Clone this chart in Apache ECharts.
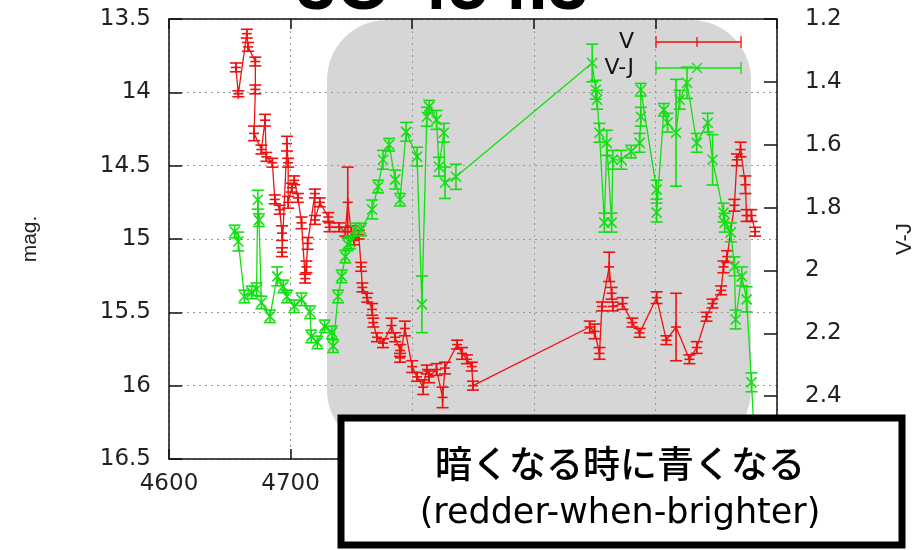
<!DOCTYPE html>
<html>
<head>
<meta charset="utf-8">
<script src="https://cdn.jsdelivr.net/npm/echarts@6/dist/echarts.min.js"></script>
<style>
html,body{margin:0;padding:0;background:#fff;}
#chart{width:924px;height:550px;}
</style>
</head>
<body>
<div id="chart"></div>
<script>
// ---- data (JD - 2450000 style day numbers) ----
const vDays = [4655,4657,4664,4665,4671,4671,4670,4676,4679,4680,4685,4687,4691,4693,4693,4697,4698,4698,4701,4703,4706,4709,4712,4713,4714,4720,4720,4724,4731,4732,4740,4745,4747,4750,4752,4756,4758,4759,4763,4767,4768,4771,4776,4783,4786,4790,4790,4794,4800,4804,4809,4812,4814,4820,4825,4827,4837,4841,4845,4849,4850,4946,4950,4954,4956,4962,4964,4965,4973,4981,4987,5001,5009,5017,5028,5034,5042,5047,5054,5056,5059,5065,5067,5070,5074,5075,5079,5082];
const vMag  = [13.83,14.01,13.60,13.69,13.79,13.98,14.28,14.39,14.19,14.44,14.48,14.73,14.80,14.96,15.09,14.35,14.48,14.75,14.65,14.60,14.72,14.89,15.27,15.19,15.03,14.69,14.87,14.75,14.85,14.92,14.92,14.95,14.75,14.95,15.01,14.97,15.19,15.33,15.40,15.48,15.57,15.67,15.71,15.59,15.67,15.76,15.81,15.61,15.87,15.94,16.01,15.89,15.94,15.89,16.08,15.88,15.72,15.78,15.82,15.87,16.00,15.60,15.63,15.78,15.46,15.19,15.37,15.46,15.44,15.57,15.64,15.40,15.69,15.60,15.82,15.74,15.53,15.44,15.35,15.19,15.12,14.77,14.46,14.39,14.63,14.84,14.84,14.95];
const vErr  = [0.03,0.02,0.03,0.03,0.03,0.03,0.05,0.03,0.04,0.03,0.03,0.03,0.03,0.05,0.03,0.05,0.03,0.04,0.03,0.03,0.03,0.04,0.03,0.04,0.04,0.03,0.03,0.03,0.03,0.03,0.03,0.03,0.24,0.04,0.03,0.03,0.03,0.03,0.03,0.04,0.03,0.03,0.03,0.05,0.03,0.04,0.03,0.05,0.04,0.03,0.05,0.03,0.04,0.04,0.07,0.04,0.03,0.04,0.03,0.03,0.03,0.04,0.05,0.04,0.03,0.10,0.04,0.03,0.04,0.03,0.03,0.04,0.03,0.23,0.03,0.04,0.03,0.03,0.03,0.04,0.04,0.04,0.04,0.05,0.06,0.04,0.04,0.03];

const vjDays = [4654,4657,4662,4668,4672,4673,4674,4676,4683,4689,4694,4697,4703,4709,4716,4717,4722,4728,4734,4735,4739,4742,4745,4747,4749,4753,4758,4767,4772,4776,4781,4786,4790,4795,4804,4808,4812,4814,4820,4822,4826,4827,4836,4948,4951,4952,4954,4958,4960,4964,4965,4972,4980,4987,4988,4988,5001,5001,5007,5010,5017,5020,5026,5034,5043,5047,5056,5057,5062,5065,5066,5071,5075,5079,5081];
const vjVal  = [1.876,1.908,2.083,2.07,2.06,1.775,1.84,2.102,2.146,2.019,2.051,2.083,2.114,2.092,2.133,2.21,2.229,2.178,2.197,2.241,2.083,2.019,1.956,1.917,1.911,1.87,1.87,1.806,1.733,1.648,1.60,1.711,1.775,1.559,1.638,2.108,1.511,1.479,1.521,1.67,1.562,1.721,1.702,1.34,1.425,1.457,1.562,1.848,1.594,1.848,1.648,1.648,1.622,1.594,1.511,1.425,1.743,1.816,1.489,1.53,1.562,1.457,1.403,1.594,1.53,1.648,1.816,1.848,1.879,1.987,2.156,2.019,2.092,2.356,2.505];
const vjErr  = [0.02,0.03,0.02,0.02,0.02,0.03,0.02,0.02,0.02,0.03,0.02,0.02,0.02,0.02,0.02,0.02,0.02,0.02,0.02,0.02,0.02,0.02,0.02,0.02,0.02,0.02,0.02,0.03,0.02,0.03,0.02,0.03,0.02,0.03,0.03,0.09,0.03,0.02,0.03,0.03,0.03,0.05,0.04,0.06,0.03,0.03,0.03,0.03,0.04,0.03,0.03,0.03,0.02,0.03,0.03,0.02,0.03,0.03,0.02,0.03,0.17,0.03,0.05,0.03,0.03,0.08,0.03,0.03,0.03,0.03,0.03,0.03,0.04,0.03,0.03];

const titleText = '3C 454.3';
const leftName = 'mag.';
const rightName = 'V-J';
const seriesNames = ['V', 'V-J'];
const noteLine1 = '暗くなる時に青くなる';
const noteLine2 = '(redder-when-brighter)';

// ---- build ----
const RED = '#f01010';
const GREEN = '#10e010';
const vData = vDays.map((d, i) => [d, vMag[i], vErr[i]]);
const vjData = vjDays.map((d, i) => [d, vjVal[i], vjErr[i]]);

function errRender(color, marker) {
  return function (params, api) {
    const x = api.value(0), y = api.value(1), e = api.value(2);
    const p = api.coord([x, y]);
    const a = api.coord([x, y - e]);
    const b = api.coord([x, y + e]);
    const cw = 6, ms = 5;
    const st = { stroke: color, lineWidth: 1.6, fill: null };
    const ch = [
      { type: 'line', shape: { x1: p[0], y1: a[1], x2: p[0], y2: b[1] }, style: st },
      { type: 'line', shape: { x1: p[0] - cw, y1: a[1], x2: p[0] + cw, y2: a[1] }, style: st },
      { type: 'line', shape: { x1: p[0] - cw, y1: b[1], x2: p[0] + cw, y2: b[1] }, style: st }
    ];
    if (marker === '+') {
      ch.push({ type: 'line', shape: { x1: p[0] - ms, y1: p[1], x2: p[0] + ms, y2: p[1] }, style: st });
      ch.push({ type: 'line', shape: { x1: p[0], y1: p[1] - ms, x2: p[0], y2: p[1] + ms }, style: st });
    } else {
      ch.push({ type: 'line', shape: { x1: p[0] - ms, y1: p[1] - ms, x2: p[0] + ms, y2: p[1] + ms }, style: st });
      ch.push({ type: 'line', shape: { x1: p[0] - ms, y1: p[1] + ms, x2: p[0] + ms, y2: p[1] - ms }, style: st });
    }
    return { type: 'group', children: ch };
  };
}

const labelFont = { fontFamily: 'DejaVu Sans', fontSize: 23, color: '#222' };
const gridLine = { show: true, lineStyle: { color: '#999', type: [2, 4], width: 1 } };
const axisLine = { show: true, lineStyle: { color: '#111', width: 1.5 } };

const chart = echarts.init(document.getElementById('chart'), null, { renderer: 'canvas' });

function legendItem(y, name, color, marker) {
  const st = { stroke: color, lineWidth: 1.3 };
  const cx = 697, ms = 5;
  const els = [
    { type: 'text', x: 634, y: y, style: { text: name, fill: '#111', font: '22px "DejaVu Sans"', align: 'right', verticalAlign: 'middle' } },
    { type: 'line', shape: { x1: 656, y1: y, x2: 741, y2: y }, style: st },
    { type: 'line', shape: { x1: 656, y1: y - 6, x2: 656, y2: y + 6 }, style: st },
    { type: 'line', shape: { x1: 741, y1: y - 6, x2: 741, y2: y + 6 }, style: st }
  ];
  if (marker === '+') {
    els.push({ type: 'line', shape: { x1: cx, y1: y - ms, x2: cx, y2: y + ms }, style: st });
  } else {
    els.push({ type: 'line', shape: { x1: cx - ms, y1: y - ms, x2: cx + ms, y2: y + ms }, style: st });
    els.push({ type: 'line', shape: { x1: cx - ms, y1: y + ms, x2: cx + ms, y2: y - ms }, style: st });
  }
  return els.map(e => Object.assign(e, { z: 50 }));
}

const option = {
  animation: false,
  backgroundColor: '#ffffff',
  grid: { left: 169, right: 146, top: 19, bottom: 91, containLabel: false },
  xAxis: [
    {
      type: 'value', min: 4600, max: 5100, interval: 100, position: 'bottom',
      axisLine: axisLine,
      axisTick: { show: true, inside: true, length: 10, lineStyle: { color: '#111', width: 1.5 } },
      axisLabel: Object.assign({ margin: 14, formatter: v => String(v) }, labelFont),
      splitLine: gridLine
    },
    {
      type: 'value', min: 4600, max: 5100, interval: 100, position: 'top',
      axisLine: axisLine,
      axisTick: { show: true, inside: true, length: 10, lineStyle: { color: '#111', width: 1.5 } },
      axisLabel: { show: false },
      splitLine: { show: false }
    }
  ],
  yAxis: [
    {
      type: 'value', min: 13.5, max: 16.5, interval: 0.5, inverse: true, position: 'left',
      name: leftName, nameLocation: 'middle', nameRotate: 90, nameGap: 128,
      nameTextStyle: { fontFamily: 'Liberation Sans', fontSize: 21, color: '#222' },
      axisLine: axisLine,
      axisTick: { show: true, inside: true, length: 13, lineStyle: { color: '#111', width: 1.5 } },
      axisLabel: Object.assign({ margin: 18 }, labelFont),
      splitLine: gridLine
    },
    {
      type: 'value', min: 1.2, max: 2.6, interval: 0.2, inverse: true, position: 'right',
      name: rightName, nameLocation: 'middle', nameRotate: 90, nameGap: 117,
      nameTextStyle: { fontFamily: 'Liberation Sans', fontSize: 22, color: '#222' },
      axisLine: axisLine,
      axisTick: { show: true, inside: true, length: 13, lineStyle: { color: '#111', width: 1.5 } },
      axisLabel: Object.assign({ margin: 28 }, labelFont),
      splitLine: { show: false }
    }
  ],
  series: [
    {
      name: seriesNames[0], type: 'line', xAxisIndex: 0, yAxisIndex: 0,
      data: vData.map(d => [d[0], d[1]]), symbol: 'none',
      lineStyle: { color: RED, width: 1.3 }, z: 3
    },
    {
      name: seriesNames[0] + '_err', type: 'custom', xAxisIndex: 0, yAxisIndex: 0,
      data: vData, renderItem: errRender(RED, '+'), encode: { x: 0, y: 1 }, z: 3
    },
    {
      name: seriesNames[1], type: 'line', xAxisIndex: 0, yAxisIndex: 1,
      data: vjData.map(d => [d[0], d[1]]), symbol: 'none',
      lineStyle: { color: GREEN, width: 1.3 }, z: 4
    },
    {
      name: seriesNames[1] + '_err', type: 'custom', xAxisIndex: 0, yAxisIndex: 1,
      data: vjData, renderItem: errRender(GREEN, 'x'), encode: { x: 0, y: 1 }, z: 4
    }
  ],
  graphic: [
    { type: 'rect', z: -10, shape: { x: 327, y: 20, width: 424, height: 430, r: 60 }, style: { fill: '#d6d6d6' } },
    { type: 'text', z: 60, x: 442, y: -11, style: { text: titleText, fill: '#000', font: 'bold 72px "Liberation Sans"', align: 'center', verticalAlign: 'middle' } },
    ...legendItem(42, seriesNames[0], RED, '+'),
    ...legendItem(68, seriesNames[1], GREEN, 'x'),
    { type: 'rect', z: 100, shape: { x: 341, y: 418, width: 561, height: 127 }, style: { fill: '#fff', stroke: '#000', lineWidth: 7 } },
    { type: 'text', z: 101, x: 620, y: 464, style: { text: noteLine1, fill: '#000', font: '500 37px "Noto Sans CJK JP"', align: 'center', verticalAlign: 'middle' } },
    { type: 'text', z: 101, x: 620, y: 514, style: { text: noteLine2, fill: '#000', font: '35px "DejaVu Sans"', align: 'center', verticalAlign: 'middle' } }
  ]
};
chart.setOption(option);
</script>
</body>
</html>
